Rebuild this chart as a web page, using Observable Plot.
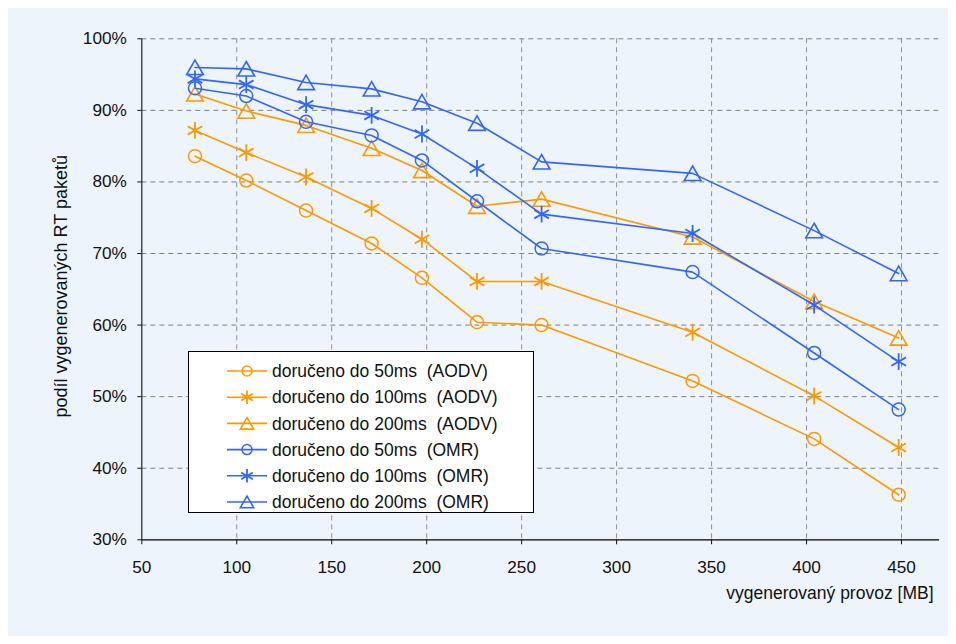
<!DOCTYPE html>
<html>
<head>
<meta charset="utf-8">
<script src="https://cdn.jsdelivr.net/npm/d3@7"></script>
<script src="https://cdn.jsdelivr.net/npm/@observablehq/plot@0.6"></script>
<style>
  html, body { margin: 0; padding: 0; background: #ffffff; }
  #panel {
    position: absolute; left: 8px; top: 8px; width: 940px; height: 628px;
    background: #edf4fb;
  }
  #legend { position: absolute; left: 180px; top: 343px; }
</style>
</head>
<body>
<div id="panel"><div id="chart"></div><div id="legend"></div></div>
<script>
// Generated traffic (MB) at each measurement
const traffic = [78, 105, 136.5, 171, 197.5, 226.5, 260.5, 340, 404, 448.5];

// Share of generated RT packets delivered within the deadline (%)
const aodv50  = [83.6, 80.2, 76.0, 71.4, 66.6, 60.4, 60.0, 52.2, 44.1, 36.3];
const aodv100 = [87.2, 84.1, 80.7, 76.3, 72.0, 66.1, 66.1, 59.0, 50.1, 42.9];
const aodv200 = [92.3, 89.9, 87.9, 84.7, 81.6, 76.6, 77.6, 72.3, 63.3, 58.2];
const omr50   = [93.1, 92.0, 88.4, 86.5, 83.0, 77.3, 70.7, 67.4, 56.1, 48.2];
const omr100  = [94.4, 93.6, 90.8, 89.3, 86.7, 81.9, 75.5, 72.8, 62.8, 54.9];
const omr200  = [96.0, 95.8, 93.9, 93.0, 91.2, 88.2, 82.8, 81.2, 73.2, 67.2];

const seriesNames = [
  "doručeno do 50ms (AODV)",
  "doručeno do 100ms (AODV)",
  "doručeno do 200ms (AODV)",
  "doručeno do 50ms (OMR)",
  "doručeno do 100ms (OMR)",
  "doručeno do 200ms (OMR)"
];
const seriesValues = [aodv50, aodv100, aodv200, omr50, omr100, omr200];

const xTicks = [50, 100, 150, 200, 250, 300, 350, 400, 450];
const yTicks = [30, 40, 50, 60, 70, 80, 90, 100];

const ORANGE = "#ff9900";
const BLUE = "#3366ff";
const FONT = "'Liberation Sans', Arial, sans-serif";

// Marker style per series: colour, symbol, radius, stroke, vertical nudge for triangles
const styles = [
  {color: ORANGE, symbol: "circle",   r: 6.5, sw: 1.5, dy: 0},
  {color: ORANGE, symbol: "asterisk", r: 8,   sw: 1.8, dy: 0},
  {color: ORANGE, symbol: "triangle", r: 6.2, sw: 1.6, dy: 2.3},
  {color: BLUE,   symbol: "circle",   r: 6.5, sw: 1.5, dy: 0},
  {color: BLUE,   symbol: "asterisk", r: 8,   sw: 1.8, dy: 0},
  {color: BLUE,   symbol: "triangle", r: 6.2, sw: 1.6, dy: 2.3}
];

const series = seriesNames.map((name, i) => ({
  name, style: styles[i],
  points: traffic.map((x, j) => ({x, y: seriesValues[i][j], name}))
}));

const marks = [
  Plot.ruleY(yTicks.slice(1), {stroke: "#808080", strokeWidth: 1, strokeDasharray: "5,4"}),
  Plot.ruleX(xTicks.slice(1), {stroke: "#909090", strokeWidth: 1, strokeDasharray: "5,4"}),
  Plot.ruleX([50], {stroke: "#222", strokeWidth: 1.2}),
  Plot.ruleY([30], {stroke: "#000", strokeWidth: 1.2}),
  Plot.axisY({ticks: yTicks, tickFormat: d => d + "%", tickSize: 4, tickPadding: 11,
              label: null, fontSize: 17.2, fill: "#111"}),
  Plot.axisX({ticks: xTicks, tickSize: 5, tickPadding: 16, label: null,
              fontSize: 17.2, fill: "#111"}),
  Plot.text(["podíl vygenerovaných RT paketů"], {
    frameAnchor: "left", textAnchor: "middle", lineAnchor: "middle", rotate: -90,
    dx: -81, dy: -3, fontSize: 18, fill: "#111"
  }),
  Plot.text(["vygenerovaný provoz [MB]"], {
    frameAnchor: "bottom-right", textAnchor: "end", lineAnchor: "middle",
    dx: -6, dy: 54, fontSize: 17.5, fill: "#111"
  })
];

for (const s of series) {
  marks.push(Plot.line(s.points, {x: "x", y: "y", stroke: s.style.color, strokeWidth: 1.6}));
  marks.push(Plot.dot(s.points, {
    x: "x", y: "y", symbol: () => s.style.symbol, r: s.style.r, dy: s.style.dy,
    stroke: s.style.color, strokeWidth: s.style.sw, fill: "none"
  }));
}

const chart = Plot.plot({
  width: 940,
  height: 628,
  marginLeft: 133.3,
  marginTop: 30.3,
  marginRight: 9,
  marginBottom: 96.7,
  style: {background: "transparent", fontSize: "17px", fontFamily: FONT, color: "#111"},
  x: {domain: [50, 470], type: "linear"},
  y: {domain: [30, 100], type: "linear"},
  symbol: {type: "identity"},
  marks
});
document.getElementById("chart").appendChild(chart);

// Legend box
const lg = d3.select("#legend").append("svg")
  .attr("width", 350).attr("height", 166)
  .style("font-family", FONT).style("font-size", "17.5px");
lg.append("rect").attr("x", 0.5).attr("y", 0.5).attr("width", 345).attr("height", 161)
  .attr("fill", "#fff").attr("stroke", "#000").attr("stroke-width", 1);
const symbolTypes = {circle: d3.symbolCircle, asterisk: d3.symbolAsterisk, triangle: d3.symbolTriangle};
series.forEach((s, i) => {
  const cy = 20 + i * 26.2;
  const g = lg.append("g");
  g.append("line").attr("x1", 39).attr("x2", 79).attr("y1", cy).attr("y2", cy)
    .attr("stroke", s.style.color).attr("stroke-width", 1.6);
  const r = s.style.symbol === "circle" ? 5 : s.style.r * 0.8;
  g.append("path")
    .attr("d", d3.symbol(symbolTypes[s.style.symbol], Math.PI * r * r)())
    .attr("transform", `translate(59,${cy + s.style.dy * 0.8})`)
    .attr("fill", "none").attr("stroke", s.style.color).attr("stroke-width", s.style.sw);
  g.append("text").attr("x", 84).attr("y", cy).attr("dy", "0.35em")
    .attr("fill", "#111").style("white-space", "pre").text(s.name.replace(" (", "  ("));
});
</script>
</body>
</html>
